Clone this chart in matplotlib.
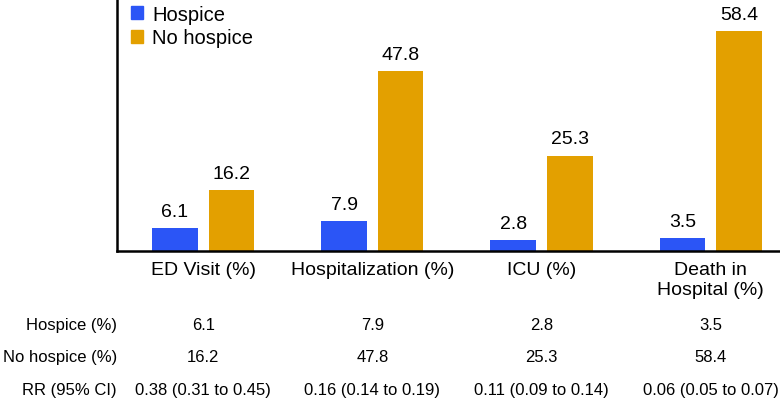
import matplotlib.pyplot as plt
from matplotlib.patches import Patch
import numpy as np

# data
categories = ['ED Visit (%)', 'Hospitalization (%)', 'ICU (%)', 'Death in\nHospital (%)']
hospice = [6.1, 7.9, 2.8, 3.5]
no_hospice = [16.2, 47.8, 25.3, 58.4]
rr_ci = ['0.38 (0.31 to 0.45)', '0.16 (0.14 to 0.19)',
         '0.11 (0.09 to 0.14)', '0.06 (0.05 to 0.07)']
row_labels = ['Hospice (%)', 'No hospice (%)', 'RR (95% CI)']

blue = '#2b55f6'
orange = '#e3a000'
font = ['Liberation Sans', 'DejaVu Sans']

fig = plt.figure(figsize=(7.8, 4.06), dpi=100)
ax = fig.add_axes([117 / 780, 1 - 252 / 406, 663 / 780, 252 / 406])

x = np.arange(len(categories))
width = 0.27
off = 0.167
b1 = ax.bar(x - off, hospice, width, color=blue)
b2 = ax.bar(x + off, no_hospice, width, color=orange)

# value labels on bars
for bars in (b1, b2):
    for bar in bars:
        h = bar.get_height()
        ax.text(bar.get_x() + bar.get_width() / 2, h + 2.2, f'{h:.1f}',
                ha='center', va='bottom', fontsize=14, family=font)

ax.set_xlim(-0.51, 3.41)
ax.set_ylim(0, 66.9)
ax.set_xticks(x)
ax.set_xticklabels(categories, fontsize=14, family=font, va='top',
                   linespacing=1.25)
ax.tick_params(axis='x', length=0, pad=7)
ax.set_yticks([])
for s in ['top', 'right']:
    ax.spines[s].set_visible(False)
ax.spines['left'].set_linewidth(1.8)
ax.spines['bottom'].set_linewidth(1.8)

handles = [Patch(color=blue, label='Hospice'), Patch(color=orange, label='No hospice')]
ax.legend(handles=handles, loc='upper left', bbox_to_anchor=(0.0, 1.033),
          frameon=False, handlelength=0.6, handleheight=0.6,
          handletextpad=0.45, labelspacing=0.22, borderaxespad=0.3,
          prop={'family': font, 'size': 14.5})

# table under the chart
rows = [
    [f'{v:.1f}' for v in hospice],
    [f'{v:.1f}' for v in no_hospice],
    rr_ci,
]
row_y = [-0.29, -0.417, -0.548]
tr = ax.get_xaxis_transform()
for lab, vals, yy in zip(row_labels, rows, row_y):
    ax.text(0.0, yy, lab, transform=ax.transAxes, ha='right', va='center',
            fontsize=12, family=font)
    for xi, v in zip(x, vals):
        ax.text(xi, yy, v, transform=tr, ha='center', va='center',
                fontsize=12, family=font)

fig.savefig('out.png', dpi=100)
